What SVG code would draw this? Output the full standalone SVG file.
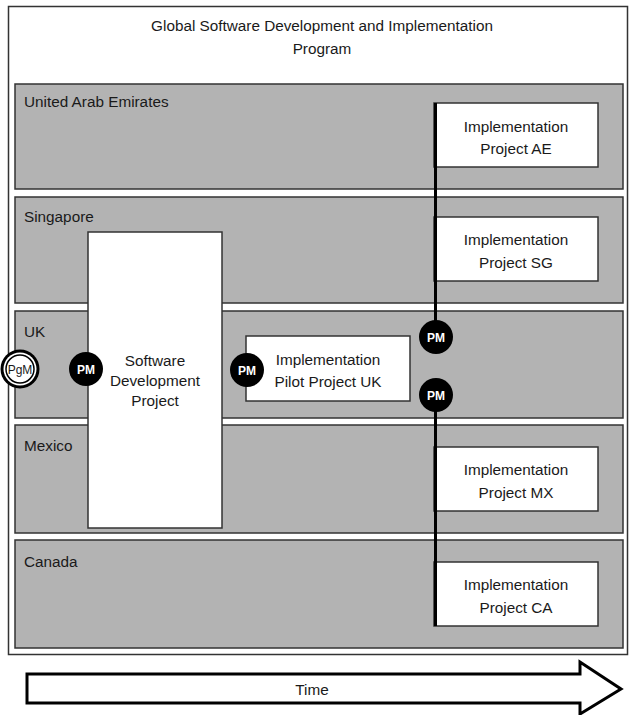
<svg xmlns="http://www.w3.org/2000/svg" width="629" height="715" viewBox="0 0 629 715">
<style>
text{font-family:"Liberation Sans",Arial,sans-serif;font-size:15.3px;fill:#1a1a1a}
.c{text-anchor:middle}
.lane{fill:#b3b3b3;stroke:#333;stroke-width:1.5}
.box{fill:#fff;stroke:#333;stroke-width:1.5}
.pm{fill:#000}
.pmt{font-size:12px;font-weight:bold;fill:#fff;text-anchor:middle}
.conn{stroke:#000;stroke-width:3;fill:none}
</style>
<rect x="0" y="0" width="629" height="715" fill="#fff"/>
<g id="frame">
<rect x="8.5" y="6.5" width="619" height="648" fill="#fff" stroke="#333" stroke-width="1.5"/>
<text class="c" x="322" y="31">Global Software Development and Implementation</text>
<text class="c" x="322" y="54">Program</text>
</g>
<g id="lane-uae"><rect class="lane" x="15" y="84" width="608" height="105"/><text x="24" y="107">United Arab Emirates</text></g>
<g id="lane-sg"><rect class="lane" x="15" y="197" width="608" height="106"/><text x="24" y="222">Singapore</text></g>
<g id="lane-uk"><rect class="lane" x="15" y="311" width="608" height="107"/><text x="24" y="337">UK</text></g>
<g id="lane-mx"><rect class="lane" x="15" y="425" width="608" height="108"/><text x="24" y="451">Mexico</text></g>
<g id="lane-ca"><rect class="lane" x="15" y="540" width="608" height="108"/><text x="24" y="567">Canada</text></g>
<g id="sw-dev"><rect class="box" x="88" y="232" width="134" height="296"/>
<text class="c" x="155" y="366">Software</text><text class="c" x="155" y="386">Development</text><text class="c" x="155" y="406">Project</text></g>
<g id="impl-ae"><rect class="box" x="434" y="103" width="164" height="64"/><text class="c" x="516" y="132">Implementation</text><text class="c" x="516" y="154">Project AE</text></g>
<g id="impl-sg"><rect class="box" x="434" y="217" width="164" height="64"/><text class="c" x="516" y="245">Implementation</text><text class="c" x="516" y="268">Project SG</text></g>
<g id="impl-uk"><rect class="box" x="246" y="336" width="164" height="65"/><text class="c" x="328" y="365">Implementation</text><text class="c" x="328" y="387">Pilot Project UK</text></g>
<g id="impl-mx"><rect class="box" x="434" y="447" width="164" height="64"/><text class="c" x="516" y="475">Implementation</text><text class="c" x="516" y="498">Project MX</text></g>
<g id="impl-ca"><rect class="box" x="434" y="562" width="164" height="64"/><text class="c" x="516" y="590">Implementation</text><text class="c" x="516" y="613">Project CA</text></g>
<g id="connectors">
<line class="conn" x1="435.5" y1="103" x2="435.5" y2="330"/>
<line class="conn" x1="435.5" y1="400" x2="435.5" y2="626"/>
</g>
<g id="pgm"><circle cx="20" cy="369" r="19.5" fill="#000"/><circle cx="20" cy="369" r="16.5" fill="#fff"/><circle cx="20" cy="369" r="14" fill="#fff" stroke="#000" stroke-width="1.5"/><text class="c" x="20" y="373.5" style="font-size:12px">PgM</text></g>
<g id="pm-sw"><circle class="pm" cx="86" cy="369" r="17"/><text class="pmt" x="86" y="373.5">PM</text></g>
<g id="pm-uk"><circle class="pm" cx="247" cy="370" r="17"/><text class="pmt" x="247" y="374.5">PM</text></g>
<g id="pm-top"><circle class="pm" cx="436" cy="337" r="17"/><text class="pmt" x="436" y="341.5">PM</text></g>
<g id="pm-bottom"><circle class="pm" cx="436" cy="395" r="17"/><text class="pmt" x="436" y="399.5">PM</text></g>
<g id="time-arrow"><path d="M27,674 H580 V662 L621,689 L580,714 V703 H27 Z" fill="#fff" stroke="#000" stroke-width="3" stroke-linejoin="miter"/><text class="c" x="312" y="695">Time</text></g>
</svg>
